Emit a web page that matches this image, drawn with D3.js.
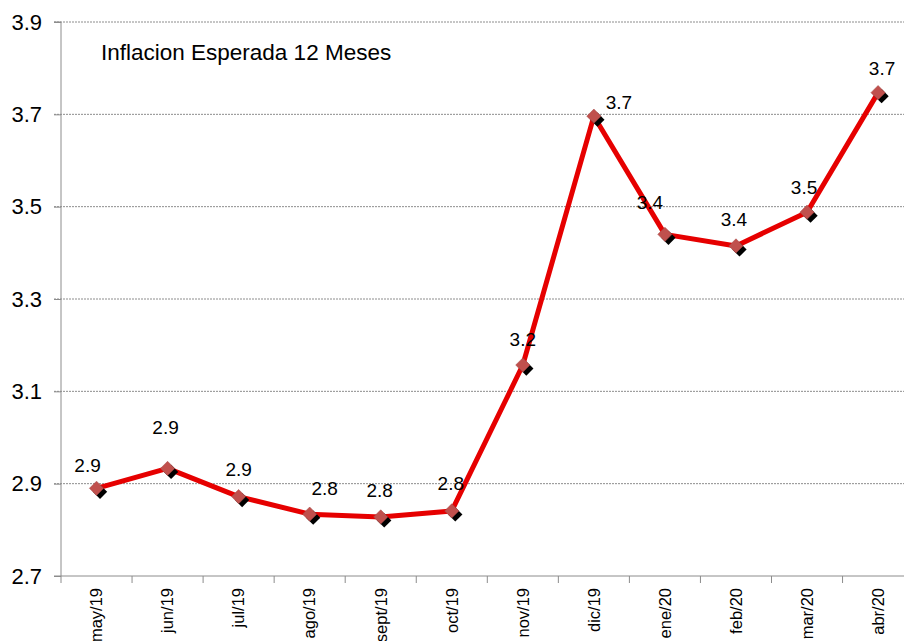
<!DOCTYPE html>
<html lang="es">
<head>
    <meta charset="UTF-8">
    <title>Inflacion Esperada 12 Meses</title>
    <style>
        body { margin: 0; padding: 0; background: #fff; }
        svg { display: block; font-family: Arial, "Liberation Sans", sans-serif; }
    </style>
    <script src="https://d3js.org/d3.v7.min.js"></script>
</head>
<body>
<svg id="chart" width="904" height="641"></svg>
<script>
    const months = ['may/19', 'jun/19', 'jul/19', 'ago/19', 'sept/19', 'oct/19',
                    'nov/19', 'dic/19', 'ene/20', 'feb/20', 'mar/20', 'abr/20'];
    const values = [2.890, 2.933, 2.872, 2.834, 2.828, 2.841,
                    3.157, 3.696, 3.440, 3.415, 3.488, 3.747];
    const labels = ['2.9', '2.9', '2.9', '2.8', '2.8', '2.8',
                    '3.2', '3.7', '3.4', '3.4', '3.5', '3.7'];
    const yTicks = [2.7, 2.9, 3.1, 3.3, 3.5, 3.7, 3.9];

    // label placement offsets (px) relative to each marker, as in the original
    const labelDx = [-9, -2, 0, 15, -1, -1, 0, 25, -15, -2, -3, 4];
    const labelDy = [-16, -34, -21, -19, -20, -21, -19, -7, -25, -20, -18, -18];

    const svg = d3.select('#chart');
    const plotLeft = 61, plotRight = 913.6, plotTop = 22, plotBottom = 576;

    const x = d3.scaleBand().domain(months).range([plotLeft, plotRight]);
    const y = d3.scaleLinear().domain([2.7, 3.9]).range([plotBottom, plotTop]);

    // gridlines
    svg.append('g')
        .selectAll('line')
        .data(yTicks.filter(t => t > 2.7))
        .join('line')
        .attr('x1', plotLeft - 7).attr('x2', 904)
        .attr('y1', d => y(d)).attr('y2', d => y(d))
        .attr('stroke', '#8c8c8c')
        .attr('stroke-width', 1)
        .attr('stroke-dasharray', '2,1');

    // y axis
    const yAxis = svg.append('g')
        .attr('transform', `translate(${plotLeft},0)`)
        .call(d3.axisLeft(y).tickValues(yTicks).tickSize(7).tickPadding(12).tickFormat(d3.format('.1f')));
    yAxis.select('.domain').attr('stroke', '#8c8c8c').attr('d', `M-7,${plotBottom}H0V${plotTop}H-7`);
    yAxis.selectAll('.tick line').attr('stroke', '#8c8c8c');
    yAxis.selectAll('.tick text')
        .attr('font-size', 22)
        .attr('font-family', 'Arial, "Liberation Sans", sans-serif')
        .attr('fill', '#000')
        .attr('x', -19);

    // x axis
    const xAxis = svg.append('g')
        .attr('transform', `translate(0,${plotBottom})`)
        .call(d3.axisBottom(x).tickSize(0));
    xAxis.select('.domain').attr('stroke', '#8c8c8c').attr('d', `M${plotLeft},0H${plotRight}`);
    xAxis.selectAll('.tick text')
        .attr('font-size', 16.5)
        .attr('font-family', 'Arial, "Liberation Sans", sans-serif')
        .attr('fill', '#000')
        .attr('transform', 'rotate(-90)')
        .attr('text-anchor', 'end')
        .attr('x', -12)
        .attr('y', 0)
        .attr('dy', '0.35em');
    // tick marks at category boundaries
    svg.append('g')
        .selectAll('line')
        .data(months)
        .join('line')
        .attr('x1', d => x(d)).attr('x2', d => x(d))
        .attr('y1', plotBottom).attr('y2', plotBottom + 7)
        .attr('stroke', '#8c8c8c');

    const cx = d => x(d) + x.bandwidth() / 2;

    // line
    const line = d3.line()
        .x((d, i) => cx(months[i]))
        .y(d => y(d));
    svg.append('path')
        .datum(values)
        .attr('d', line)
        .attr('fill', 'none')
        .attr('stroke', '#e60000')
        .attr('stroke-width', 5)
        .attr('stroke-linejoin', 'round');

    // markers with shadow
    const diamond = d3.symbol().type(d3.symbolDiamond2).size(130);
    const markers = svg.append('g');
    markers.selectAll('path.shadow')
        .data(values)
        .join('path')
        .attr('class', 'shadow')
        .attr('d', diamond)
        .attr('transform', (d, i) => `translate(${cx(months[i]) + 3.5},${y(d) + 3.5})`)
        .attr('fill', '#000');
    markers.selectAll('path.marker')
        .data(values)
        .join('path')
        .attr('class', 'marker')
        .attr('d', diamond)
        .attr('transform', (d, i) => `translate(${cx(months[i])},${y(d)})`)
        .attr('fill', '#c0504d')
        .attr('stroke', '#a34744')
        .attr('stroke-width', 0.5);

    // data labels
    svg.append('g')
        .selectAll('text')
        .data(values)
        .join('text')
        .attr('x', (d, i) => cx(months[i]) + labelDx[i])
        .attr('y', (d, i) => y(d) + labelDy[i])
        .attr('text-anchor', 'middle')
        .attr('font-size', 19)
        .attr('fill', '#000')
        .text((d, i) => labels[i]);

    // title
    svg.append('text')
        .attr('x', 101)
        .attr('y', 60)
        .attr('font-size', 22.5)
        .attr('fill', '#000')
        .text('Inflacion Esperada 12 Meses');
</script>
</body>
</html>
